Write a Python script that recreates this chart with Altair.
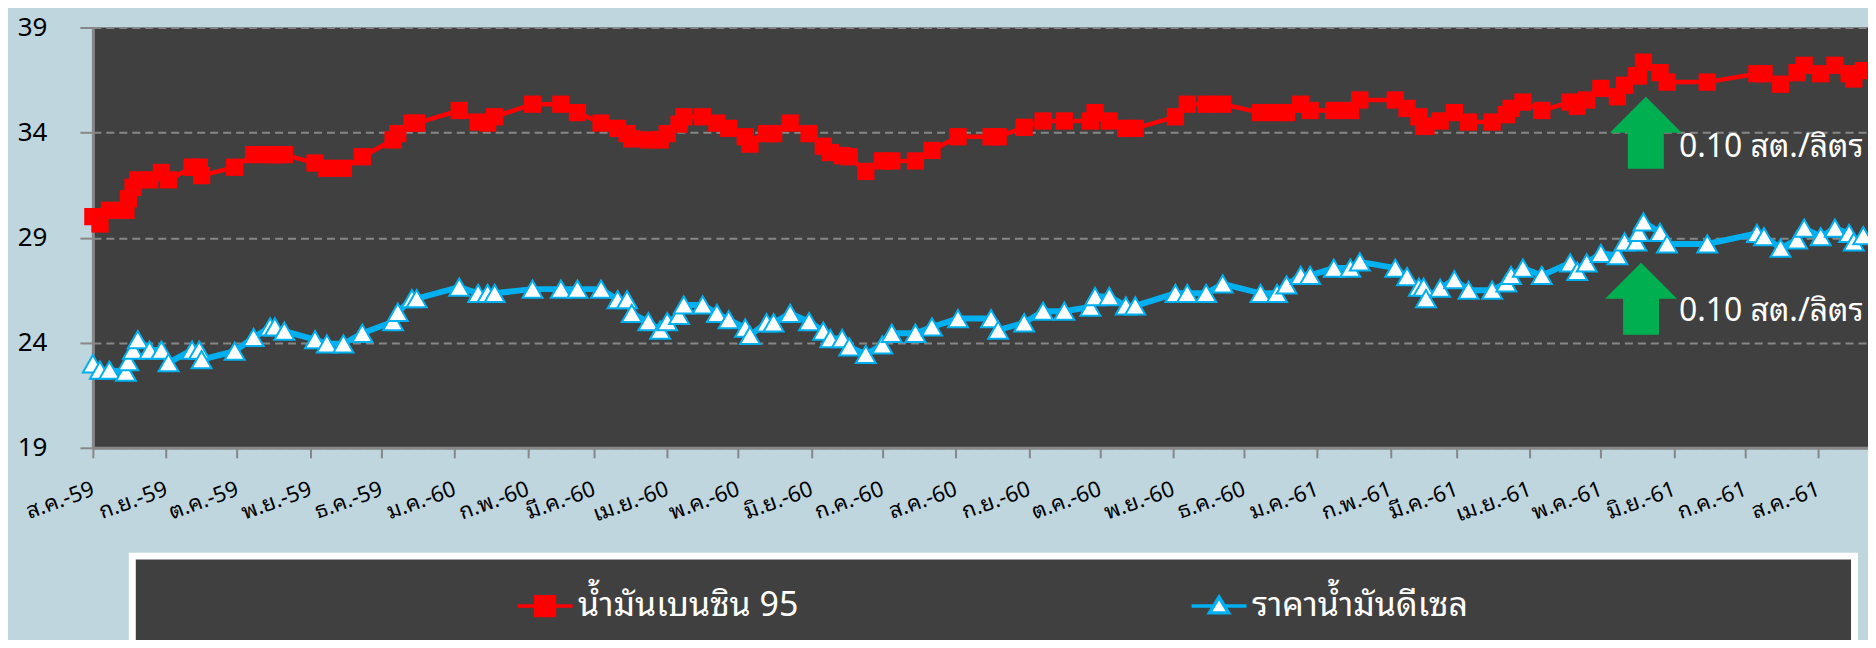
import altair as alt
import pandas as pd

# ---------------- data ----------------
dates = [
    "2016-08-01", "2016-08-04", "2016-08-08", "2016-08-15", "2016-08-16", "2016-08-18", "2016-08-20", "2016-08-25", "2016-08-30",
    "2016-09-02", "2016-09-12", "2016-09-15", "2016-09-16", "2016-09-30",
    "2016-10-08", "2016-10-15", "2016-10-17", "2016-10-21",
    "2016-11-03", "2016-11-08", "2016-11-15", "2016-11-23",
    "2016-12-06", "2016-12-08", "2016-12-14", "2016-12-16",
    "2017-01-03", "2017-01-11", "2017-01-15", "2017-01-18",
    "2017-02-03", "2017-02-15", "2017-02-22",
    "2017-03-04", "2017-03-11", "2017-03-15", "2017-03-17", "2017-03-24", "2017-03-29",
    "2017-04-01", "2017-04-06", "2017-04-08", "2017-04-16", "2017-04-22", "2017-04-27",
    "2017-05-04", "2017-05-06", "2017-05-13", "2017-05-16", "2017-05-23", "2017-05-31",
    "2017-06-06", "2017-06-09", "2017-06-14", "2017-06-17", "2017-06-24",
    "2017-07-01", "2017-07-05", "2017-07-15", "2017-07-22",
    "2017-08-02", "2017-08-16", "2017-08-19", "2017-08-30",
    "2017-09-07", "2017-09-16", "2017-09-27", "2017-09-29",
    "2017-10-05", "2017-10-12", "2017-10-16",
    "2017-11-02", "2017-11-07", "2017-11-15", "2017-11-22",
    "2017-12-08", "2017-12-15", "2017-12-19", "2017-12-25", "2017-12-29",
    "2018-01-08", "2018-01-15", "2018-01-19",
    "2018-02-03", "2018-02-08", "2018-02-13", "2018-02-15", "2018-02-16", "2018-02-22", "2018-02-28",
    "2018-03-06", "2018-03-16", "2018-03-22", "2018-03-24", "2018-03-29",
    "2018-04-06", "2018-04-18", "2018-04-21", "2018-04-25",
    "2018-05-01", "2018-05-08", "2018-05-11", "2018-05-16", "2018-05-17", "2018-05-19", "2018-05-26", "2018-05-29",
    "2018-06-15",
    "2018-07-06", "2018-07-09", "2018-07-16", "2018-07-23", "2018-07-26",
    "2018-08-02", "2018-08-08", "2018-08-14", "2018-08-16", "2018-08-20",
]

gasohol_95 = [
    30.0, 29.65, 30.3, 30.3, 30.85, 31.4, 31.75, 31.75, 32.1,
    31.75, 32.35, 32.35, 31.95, 32.35,
    32.95, 32.95, 32.95, 32.95,
    32.55, 32.3, 32.3, 32.85,
    33.65, 33.95, 34.45, 34.45,
    35.05, 34.5, 34.45, 34.75,
    35.35, 35.35, 34.95,
    34.45, 34.2, 33.95, 33.7, 33.65, 33.65,
    33.95, 34.4, 34.75, 34.75, 34.45, 34.2,
    33.8, 33.45, 33.95, 33.95, 34.45, 33.95,
    33.35, 33.05, 32.9, 32.85, 32.15,
    32.65, 32.65, 32.65, 33.15,
    33.8, 33.8, 33.8, 34.25,
    34.55, 34.55, 34.55, 34.95,
    34.55, 34.2, 34.2,
    34.75, 35.35, 35.35, 35.35,
    34.95, 34.95, 34.95, 35.35, 35.05,
    35.05, 35.05, 35.55,
    35.55, 35.15, 34.75, 34.3, 34.3, 34.55, 34.95,
    34.5, 34.5, 34.85, 35.15, 35.45,
    35.05, 35.45, 35.25, 35.55,
    36.1, 35.7, 36.25, 36.7, 36.7, 37.35, 36.85, 36.4,
    36.4,
    36.8, 36.8, 36.3, 36.85, 37.2,
    36.8, 37.2, 36.8, 36.55, 36.95,
]

diesel = [
    23.0, 22.7, 22.7, 22.6, 23.1, 23.65, 24.15, 23.65, 23.65,
    23.05, 23.65, 23.65, 23.2, 23.6,
    24.25, 24.75, 24.75, 24.55,
    24.15, 23.95, 23.95, 24.45,
    25.0, 25.45, 26.1, 26.1,
    26.65, 26.35, 26.35, 26.35,
    26.55, 26.55, 26.55,
    26.55, 26.05, 26.05, 25.4, 25.0, 24.6,
    25.0, 25.3, 25.8, 25.8, 25.4, 25.1,
    24.7, 24.35, 24.95, 24.95, 25.4, 25.0,
    24.55, 24.2, 24.2, 23.8, 23.45,
    23.9, 24.45, 24.45, 24.75,
    25.15, 25.15, 24.6, 24.95,
    25.5, 25.5, 25.7, 26.2,
    26.2, 25.75, 25.75,
    26.35, 26.35, 26.35, 26.8,
    26.35, 26.35, 26.75, 27.2, 27.2,
    27.55, 27.55, 27.85,
    27.55, 27.15, 26.65, 26.65, 26.1, 26.6, 27.0,
    26.5, 26.5, 26.85, 27.2, 27.55,
    27.2, 27.8, 27.4, 27.8,
    28.25, 28.15, 28.8, 28.8, 29.25, 29.75, 29.25, 28.7,
    28.7,
    29.2, 29.05, 28.5, 28.9, 29.45,
    29.05, 29.45, 29.2, 28.8, 29.1,
]

series_names = ["น้ำมันเบนซิน 95", "ราคาน้ำมันดีเซล"]
series_colors = ["#FF0000", "#00B0F0"]
thai_months = ["ม.ค.", "ก.พ.", "มี.ค.", "เม.ย.", "พ.ค.", "มิ.ย.",
               "ก.ค.", "ส.ค.", "ก.ย.", "ต.ค.", "พ.ย.", "ธ.ค."]
y_ticks = [19, 24, 29, 34, 39]
x_start, x_end = "2016-08-01", "2018-08-22"

arrow_dates = ["2018-05-20", "2018-05-18"]
arrow_prices = [33.99, 26.09]
note_dates = ["2018-06-03", "2018-06-03"]
note_prices = [33.3, 25.5]
note_texts = ["0.10 สต./ลิตร", "0.10 สต./ลิตร"]

# ---------------- styling ----------------
FONT = "'Noto Sans Thai Looped', 'Noto Sans Thai', Tahoma, 'Noto Sans', sans-serif"
BG = "#BFD6DE"
PLOT_BG = "#404040"
AXIS_GRAY = "#878787"


def to_dt(s):
    t = pd.Timestamp(s)
    return alt.DateTime(year=t.year, month=t.month, date=t.day, utc=True)


df = pd.DataFrame({
    "date": dates * 2,
    "price": gasohol_95 + diesel,
    "series": [series_names[0]] * len(dates) + [series_names[1]] * len(dates),
})
arrows = pd.DataFrame({"date": arrow_dates, "price": arrow_prices})
notes = pd.DataFrame({"date": note_dates, "price": note_prices, "text": note_texts})

months_js = "[" + ",".join("'" + m + "'" for m in thai_months) + "]"
x_label_expr = (months_js + "[utcmonth(datum.value)] + '-' + "
                "substring(toString(utcyear(datum.value) + 543), 2)")

x_enc = alt.X(
    "date:T",
    scale=alt.Scale(type="utc", domain=[to_dt(x_start), to_dt(x_end)], nice=False),
    axis=alt.Axis(
        tickCount={"interval": "month", "step": 1},
        labelExpr=x_label_expr, labelAngle=-20, labelAlign="right", labelBaseline="middle",
        labelFontSize=22, labelColor="black", labelPadding=30, labelOverlap=False,
        labelFlush=False, labelBound=False,
        tickSize=10, tickColor=AXIS_GRAY, tickWidth=2,
        domainColor=AXIS_GRAY, domainWidth=3, grid=False, title=None,
    ),
)
y_enc = alt.Y(
    "price:Q",
    scale=alt.Scale(domain=[19, 39], nice=False, zero=False),
    axis=alt.Axis(
        values=y_ticks, grid=True, gridDash=[8, 5], gridColor=AXIS_GRAY, gridWidth=2,
        tickSize=13, tickColor=AXIS_GRAY, tickWidth=2,
        domainColor=AXIS_GRAY, domainWidth=3,
        labelFontSize=26, labelPadding=33, labelColor="black", title=None,
    ),
)

base = alt.Chart(df)
red = base.transform_filter(alt.datum.series == series_names[0])
blue = base.transform_filter(alt.datum.series == series_names[1])

red_line = red.mark_line(color=series_colors[0], strokeWidth=4.5).encode(x=x_enc, y=y_enc)
red_pts = red.mark_point(shape="square", size=300, filled=True, color=series_colors[0],
                         opacity=1).encode(x="date:T", y="price:Q")
blue_line = blue.mark_line(color=series_colors[1], strokeWidth=6).encode(x="date:T", y="price:Q")
blue_pts = blue.mark_point(shape="triangle-up", size=400, filled=True, fill="white",
                           stroke=series_colors[1], strokeWidth=2, opacity=1).encode(
    x="date:T", y="price:Q")

arrow_path = "M0,-1L1,0L0.5,0L0.5,1L-0.5,1L-0.5,0L-1,0Z"
arrow_layer = alt.Chart(arrows).mark_point(
    shape=arrow_path, size=5184, filled=True, color="#00B050", opacity=1, strokeWidth=0
).encode(x="date:T", y="price:Q")

note_layer = alt.Chart(notes).mark_text(
    align="left", baseline="middle", fontSize=32, color="white", font=FONT
).encode(x="date:T", y="price:Q", text="text:N")

# legend symbols: line + marker (unit = 18 px, symbol size 36x36)
legend_sq = "M-1.53,0L1.53,0M-0.52,-0.52L0.52,-0.52L0.52,0.52L-0.52,0.52Z"
legend_tri = "M-1.53,0L-0.3,0M0.3,0L1.53,0M0,-0.5L0.53,0.38L-0.53,0.38Z"
pad = "\u2003" * 10 + "\u2002" + "\u200b"
legend_label_expr = f"datum.label == '{series_names[1]}' ? datum.label + '{pad}' : datum.label"

leg = alt.Legend(
    orient="none", legendX=39.5, legendY=529.5, direction="horizontal",
    title="\u00a0", titleOrient="left", titlePadding=363.5, titleFontSize=1,
    fillColor=PLOT_BG, strokeColor="#FFFFFF", padding=30,
    labelFontSize=34, labelColor="white", labelFont=FONT, labelOffset=13, labelLimit=3000,
    labelExpr=legend_label_expr,
    columnPadding=386, symbolSize=1296, symbolStrokeWidth=3.5,
)

legend_layer = base.transform_filter("datum.price < 0").mark_point(
    filled=True, opacity=1, size=1296, strokeWidth=3.5
).encode(
    x="date:T", y="price:Q",
    shape=alt.Shape("series:N", scale=alt.Scale(domain=series_names, range=[legend_sq, legend_tri]), legend=leg),
    fill=alt.Fill("series:N", scale=alt.Scale(domain=series_names, range=["#FF0000", "#FFFFFF"]), legend=leg),
    stroke=alt.Stroke("series:N", scale=alt.Scale(domain=series_names, range=series_colors), legend=leg),
)

chart = alt.layer(
    red_line, red_pts, blue_line, blue_pts, arrow_layer, note_layer, legend_layer
).properties(
    width=1778, height=421,
    autosize=alt.AutoSizeParams(type="none"),
    padding={"left": 85, "top": 19, "right": 0, "bottom": 192},
    background=BG,
).configure_view(
    fill=PLOT_BG, stroke=None
).configure_axis(
    labelFont=FONT
).configure_legend(
    strokeWidth=7
)

chart.save("out.html", embed_options={"renderer": "svg", "actions": False})
